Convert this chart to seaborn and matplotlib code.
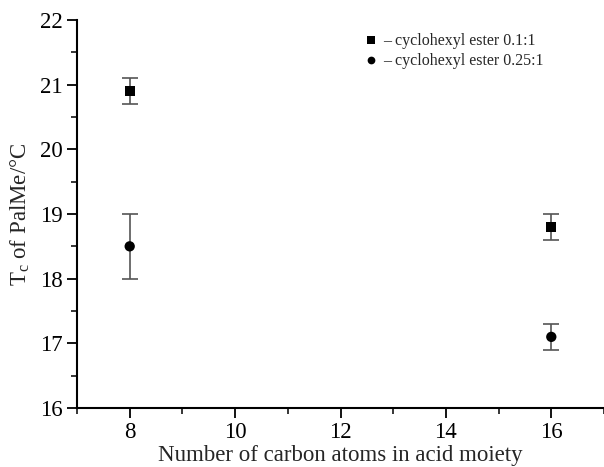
import matplotlib
matplotlib.use("Agg")
import matplotlib.pyplot as plt
import seaborn as sns
import pandas as pd
from matplotlib.ticker import MultipleLocator

carbon_atoms = [8, 16]
tc_01 = [20.9, 18.8]
err_01 = [0.2, 0.2]
tc_025 = [18.5, 17.1]
err_025 = [0.5, 0.2]
series_labels = ["– cyclohexyl ester 0.1:1", "– cyclohexyl ester 0.25:1"]

sns.set_theme(style="ticks")
plt.rcParams["font.family"] = ["Liberation Serif", "DejaVu Serif"]
plt.rcParams["mathtext.fontset"] = "custom"
plt.rcParams["mathtext.rm"] = "Liberation Serif"
plt.rcParams["mathtext.it"] = "Liberation Serif:italic"

df = pd.DataFrame({
    "x": carbon_atoms * 2,
    "y": tc_01 + tc_025,
    "err": err_01 + err_025,
    "series": [series_labels[0]] * 2 + [series_labels[1]] * 2,
})

fig = plt.figure(figsize=(6.04, 4.67), dpi=100)
ax = fig.add_axes([77 / 604, 59 / 467, 527 / 604, 388 / 467])

for lab in series_labels:
    sub = df[df["series"] == lab]
    ax.errorbar(sub["x"], sub["y"], yerr=sub["err"], fmt="none",
                ecolor="#555555", elinewidth=1.2, capsize=6, capthick=1.2, zorder=1)

sns.scatterplot(data=df, x="x", y="y", style="series", hue="series",
                palette=["black", "black"], markers=["s", "o"],
                s=55, edgecolor="black", linewidth=0, ax=ax, zorder=3)

ax.set_xlim(7, 17)
ax.set_ylim(16, 22)
ax.xaxis.set_major_locator(MultipleLocator(2))
ax.xaxis.set_minor_locator(MultipleLocator(1))
ax.yaxis.set_major_locator(MultipleLocator(1))
ax.yaxis.set_minor_locator(MultipleLocator(0.5))
ax.tick_params(which="major", direction="out", length=7, width=1.3, labelsize=16.5,
               colors="black", pad=3)
ax.tick_params(which="minor", direction="out", length=4, width=1.3)
for s in ["top", "right"]:
    ax.spines[s].set_visible(False)
for s in ["left", "bottom"]:
    ax.spines[s].set_linewidth(1.5)
    ax.spines[s].set_color("black")

ax.set_xlabel("Number of carbon atoms in acid moiety", fontsize=16.5, labelpad=1.5)
ax.set_ylabel("T$_\\mathrm{c}$ of PalMe/°C", fontsize=16.5, labelpad=6)

leg = ax.legend(loc="upper left", bbox_to_anchor=(0.527, 0.99), frameon=False,
                fontsize=11.5, handletextpad=0.4, labelspacing=0.25, markerscale=0.75,
                handlelength=0.8, borderaxespad=0.2)

fig.savefig("out.png", dpi=100)
